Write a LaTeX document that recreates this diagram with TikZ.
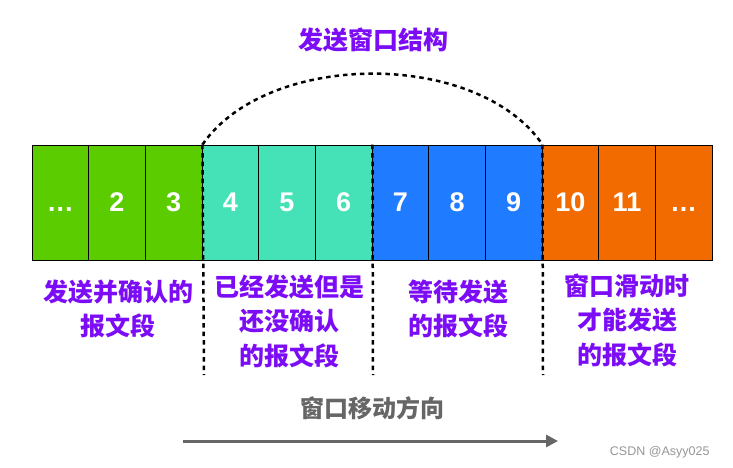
\documentclass[tikz,border=0pt]{standalone}
\usepackage{fontspec}
\setmainfont{Liberation Sans}
\newfontfamily\cjk{Noto Sans CJK SC}
\usetikzlibrary{arrows.meta}
\definecolor{cgreen}{RGB}{91,204,0}
\definecolor{cteal}{RGB}{69,226,184}
\definecolor{cblue}{RGB}{31,123,255}
\definecolor{corange}{RGB}{242,107,0}
\definecolor{cpurple}{RGB}{124,12,245}
\definecolor{cgray}{RGB}{102,102,102}
\definecolor{cwm}{RGB}{150,150,150}
\begin{document}
\begin{tikzpicture}[x=1pt,y=-1pt,
  cell/.style={draw=black, line width=0.9pt, minimum width=56.67pt, minimum height=115pt,
    inner sep=0pt, text=white, font=\fontsize{27}{30}\selectfont\bfseries},
  dashline/.style={line width=2.5pt, dash pattern=on 4.5pt off 4pt},
  lbl/.style={align=center, text=cpurple, font=\cjk\bfseries\fontsize{25}{34.5}\selectfont},
]
\useasboundingbox (0,0) rectangle (733,468);
\foreach \i/\t/\c in {1/\vphantom{0}\ldots/cgreen,2/2/cgreen,3/3/cgreen,4/4/cteal,5/5/cteal,6/6/cteal,
  7/7/cblue,8/8/cblue,9/9/cblue,10/10/corange,11/11/corange,12/\vphantom{0}\ldots/corange}{
  \node[cell, fill=\c] (c\i) at ({32+(\i-0.5)*56.667},202.5) {\t};
}
\coordinate (d1) at (204,375);
\coordinate (d2) at (373,375);
\coordinate (d3) at (543,375);
\draw[dashline] (c3.north east) -- (d1);
\draw[dashline] (c6.north east) -- (d2);
\draw[dashline] (c9.north east) -- (d3);
\draw[dashline] (c3.north east) .. controls (268,50) and (478,50) .. (c9.north east);
\node[lbl] (title) at (373,40) {发送窗口结构};
\node[lbl] (l1) at (118,309) {发送并确认的\\报文段};
\node[lbl] (l2) at (289,321) {已经发送但是\\还没确认\\的报文段};
\node[lbl] (l3) at (458,309) {等待发送\\的报文段};
\node[lbl] (l4) at (627,320) {窗口滑动时\\才能发送\\的报文段};
\node[text=cgray, font=\cjk\bfseries\fontsize{24}{28}\selectfont] (mv) at (372,408) {窗口移动方向};
\coordinate (a1) at (183,441);
\coordinate (a2) at (558,441);
\draw[cgray, line width=3pt, -{Triangle[length=12pt,width=12pt]}] (a1) -- (a2);
\node[text=cwm, font=\fontsize{12.5}{14}\selectfont, anchor=east] (wm) at (713,452) {CSDN @Asyy025};
\end{tikzpicture}
\end{document}
